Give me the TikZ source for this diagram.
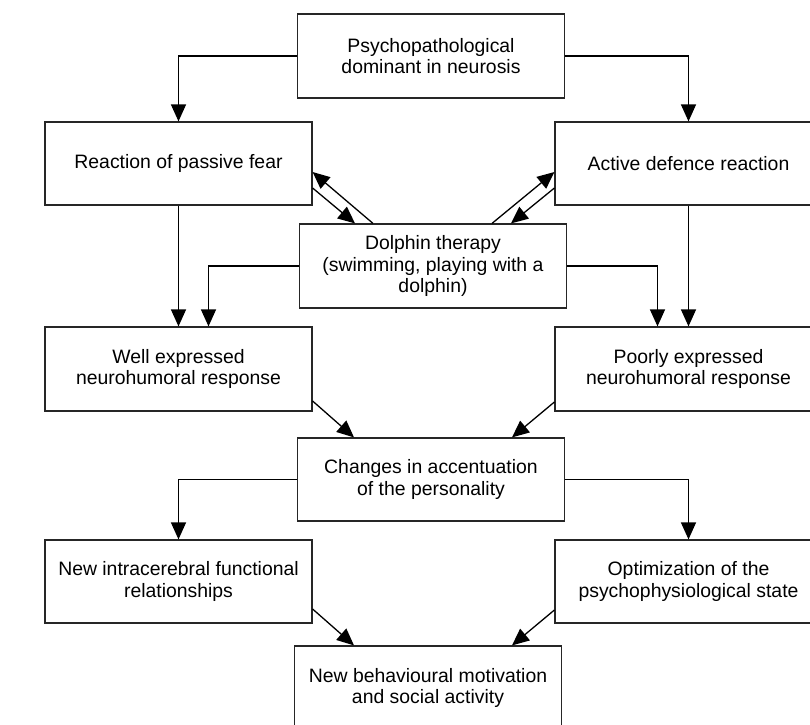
\documentclass[tikz,border=0pt]{standalone}
\usepackage{fontspec}
\setmainfont{Liberation Sans}
\usetikzlibrary{arrows.meta}
\tikzset{
  box/.style={draw=black!85, line width=1.2pt, rectangle, inner sep=0pt, align=center,
    minimum width=267pt, minimum height=84pt, font=\fontsize{19.4pt}{21.7pt}\selectfont},
  arr/.style={draw=black, line width=1.3pt, -{Triangle[length=17pt,width=15pt]}}
}
\begin{document}
\begin{tikzpicture}[x=1pt,y=-1pt]
\clip (0,0) rectangle (810,724);
\fill[white] (0,0) rectangle (810,724);
\node[box] (top) at (431,56) {Psychopathological\\dominant in neurosis};
\node[box, minimum height=83pt] (passive) at (178.5,163.5) {Reaction of passive fear};
\node[box, minimum height=83pt] (active) at (688.5,163.5) {Active defence reaction};
\node[box] (dolphin) at (433,266) {Dolphin therapy\\(swimming, playing with a\\dolphin)};
\node[box] (well) at (178.5,369) {Well expressed\\neurohumoral response};
\node[box] (poorly) at (688.5,369) {Poorly expressed\\neurohumoral response};
\node[box, minimum height=83pt] (changes) at (431,479.5) {Changes in accentuation\\of the personality};
\node[box, minimum height=83pt] (intra) at (178.5,581.5) {New intracerebral functional\\relationships};
\node[box, minimum height=83pt] (optim) at (688.5,581.5) {Optimization of the\\psychophysiological state};
\node[box] (newb) at (428,688) {New behavioural motivation\\and social activity};

\draw[arr] (top.west) -| (passive.north);
\draw[arr] (top.east) -| (active.north);
\draw[arr] (passive.south) -- (well.north);
\draw[arr] (active.south) -- (poorly.north);
\draw[arr] (dolphin.west) -| ([xshift=30pt]well.north);
\draw[arr] (dolphin.east) -| ([xshift=-31pt]poorly.north);
\draw[arr] ([xshift=-60pt]dolphin.north) -- ([yshift=-8.5pt]passive.east);
\draw[arr] ([yshift=-24.5pt]passive.east) -- ([xshift=-78pt]dolphin.north);
\draw[arr] ([xshift=59pt]dolphin.north) -- ([yshift=-8.5pt]active.west);
\draw[arr] ([yshift=-24.5pt]active.west) -- ([xshift=78pt]dolphin.north);
\draw[arr] ([yshift=-32pt]well.east) -- ([xshift=-77pt]changes.north);
\draw[arr] ([yshift=-33pt]poorly.west) -- ([xshift=81pt]changes.north);
\draw[arr] (changes.west) -| (intra.north);
\draw[arr] (changes.east) -| (optim.north);
\draw[arr] ([yshift=-27.5pt]intra.east) -- ([xshift=-74pt]newb.north);
\draw[arr] ([yshift=-28.5pt]optim.west) -- ([xshift=84pt]newb.north);
\end{tikzpicture}
\end{document}
